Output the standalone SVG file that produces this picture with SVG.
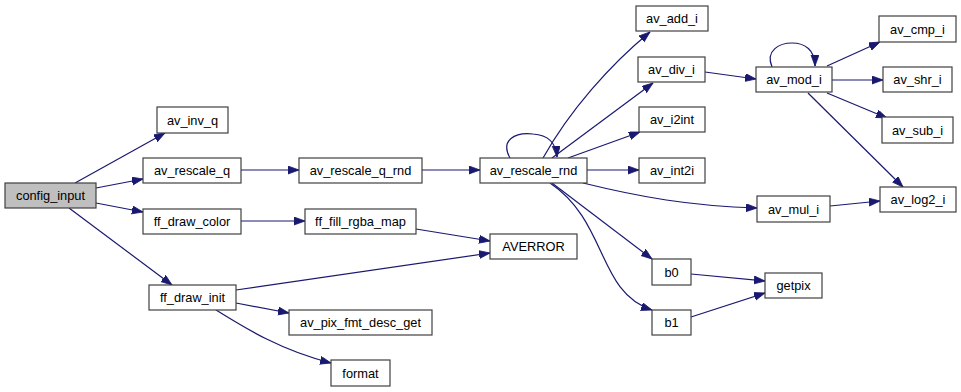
<svg xmlns="http://www.w3.org/2000/svg" width="961" height="392" viewBox="0 0 961 392">
  <style>
    .node rect { fill: #ffffff; stroke: #404040; stroke-width: 1.2; }
    .node.root rect { fill: #bfbfbf; }
    .node text { font-family: "Liberation Sans", Arial, sans-serif; font-size: 12.8px; fill: #000000; text-anchor: middle; dominant-baseline: central; }
    .edges path { fill: none; stroke: #191970; stroke-width: 1.2; marker-end: url(#arrow); }
  </style>
  <defs>
    <marker id="arrow" markerUnits="userSpaceOnUse" markerWidth="12" markerHeight="9" refX="11" refY="4" orient="auto">
      <path d="M0,0 L11,4 L0,8 z" fill="#191970" stroke="#191970" stroke-width="0.8"/>
    </marker>
  </defs>
  <rect width="961" height="392" fill="#ffffff"/>

  <g class="edges">
    <path d="M75,183 L165,133"/>
    <path d="M96,188 L143,179"/>
    <path d="M96,203 L143,212"/>
    <path d="M69,208 L172,285"/>
    <path d="M241,170 L299,170"/>
    <path d="M422,170 L480,170"/>
    <path d="M241,221 L305,221"/>
    <path d="M416,229 L490,241"/>
    <path d="M236,290 L490,253"/>
    <path d="M236,303 L289,313"/>
    <path d="M216,310 C245,328 280,350 331,363"/>
    <path d="M510,158 C500,140 515,132 533,134 C548,135 556,142 557,157"/>
    <path d="M543,158 C570,110 610,65 650,32"/>
    <path d="M552,158 L653,83"/>
    <path d="M568,158 L640,132"/>
    <path d="M587,170 L639,170"/>
    <path d="M583,183 C640,197 690,206 757,208"/>
    <path d="M552,183 L652,259"/>
    <path d="M550,183 C608,222 597,292 652,310"/>
    <path d="M705,72 L756,79"/>
    <path d="M772,67 C765,50 780,43 792,43 C805,43 815,50 815,66"/>
    <path d="M827,66 L880,42"/>
    <path d="M832,80 L883,80"/>
    <path d="M827,93 L887,118"/>
    <path d="M808,93 L903,187"/>
    <path d="M830,206 L880,201"/>
    <path d="M691,274 L765,281"/>
    <path d="M691,317 L765,293"/>
  </g>

  <g id="config_input" class="node root"><rect x="5" y="183" width="91" height="25"/><text x="50.5" y="195.5">config_input</text></g>
  <g id="av_inv_q" class="node"><rect x="157" y="107" width="71" height="26"/><text x="192.5" y="120">av_inv_q</text></g>
  <g id="av_rescale_q" class="node"><rect x="143" y="158" width="98" height="25"/><text x="192" y="170.5">av_rescale_q</text></g>
  <g id="ff_draw_color" class="node"><rect x="143" y="209" width="98" height="25"/><text x="192" y="221.5">ff_draw_color</text></g>
  <g id="ff_draw_init" class="node"><rect x="149" y="285" width="87" height="25"/><text x="192.5" y="297.5">ff_draw_init</text></g>
  <g id="av_rescale_q_rnd" class="node"><rect x="299" y="158" width="123" height="25"/><text x="360.5" y="170.5">av_rescale_q_rnd</text></g>
  <g id="ff_fill_rgba_map" class="node"><rect x="305" y="209" width="111" height="25"/><text x="360.5" y="221.5">ff_fill_rgba_map</text></g>
  <g id="av_pix_fmt_desc_get" class="node"><rect x="289" y="310" width="143" height="25"/><text x="360.5" y="322.5">av_pix_fmt_desc_get</text></g>
  <g id="format" class="node"><rect x="331" y="360" width="59" height="26"/><text x="360.5" y="373">format</text></g>
  <g id="AVERROR" class="node"><rect x="490" y="234" width="87" height="25"/><text x="533.5" y="246.5">AVERROR</text></g>
  <g id="av_rescale_rnd" class="node"><rect x="480" y="158" width="107" height="25"/><text x="533.5" y="170.5">av_rescale_rnd</text></g>
  <g id="av_add_i" class="node"><rect x="636" y="6" width="72" height="25"/><text x="672" y="18.5">av_add_i</text></g>
  <g id="av_div_i" class="node"><rect x="638" y="57" width="67" height="25"/><text x="671.5" y="69.5">av_div_i</text></g>
  <g id="av_i2int" class="node"><rect x="639" y="107" width="66" height="25"/><text x="672" y="119.5">av_i2int</text></g>
  <g id="av_int2i" class="node"><rect x="639" y="158" width="66" height="25"/><text x="672" y="170.5">av_int2i</text></g>
  <g id="av_mul_i" class="node"><rect x="757" y="196" width="73" height="26"/><text x="793.5" y="209">av_mul_i</text></g>
  <g id="b0" class="node"><rect x="652" y="259" width="39" height="26"/><text x="671.5" y="272">b0</text></g>
  <g id="b1" class="node"><rect x="652" y="310" width="39" height="25"/><text x="671.5" y="322.5">b1</text></g>
  <g id="getpix" class="node"><rect x="765" y="273" width="57" height="25"/><text x="793.5" y="285.5">getpix</text></g>
  <g id="av_mod_i" class="node"><rect x="756" y="67" width="76" height="25"/><text x="794" y="79.5">av_mod_i</text></g>
  <g id="av_cmp_i" class="node"><rect x="879" y="16" width="77" height="26"/><text x="917.5" y="29">av_cmp_i</text></g>
  <g id="av_shr_i" class="node"><rect x="883" y="67" width="69" height="25"/><text x="917.5" y="79.5">av_shr_i</text></g>
  <g id="av_sub_i" class="node"><rect x="882" y="117" width="71" height="26"/><text x="917.5" y="130">av_sub_i</text></g>
  <g id="av_log2_i" class="node"><rect x="880" y="187" width="76" height="25"/><text x="918" y="199.5">av_log2_i</text></g>
</svg>
